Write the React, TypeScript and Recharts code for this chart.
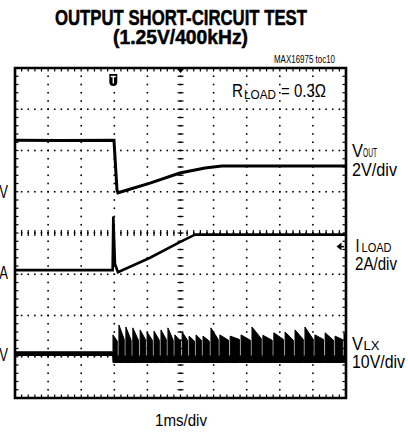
import React from "react";
import { ComposedChart, Line, Area, Scatter, XAxis, YAxis, ReferenceArea } from "recharts";

// time in ms from the trigger, 1ms/div, the screen shows -3 .. 7 ms
const voutTime = [-3, -1.6, -0.01, 0.08, 0.11, 1.08, 1.98, 2.74, 3.25, 7];
const voutVolts = [2.5, 2.48, 2.5, 0.1, -0.05, 0.42, 0.91, 1.15, 1.25, 1.25];

const iloadTime = [-3, -0.05, -0.03, 0.02, 0.11, 1.08, 1.98, 2.45, 7];
const iloadAmps = [0.2, 0.2, 2.8, 0.5, 0.1, 0.8, 1.56, 1.93, 1.92];

// LX node: trace band before the short, band floor after it, then the switching bursts
const vlxPreBand = [0.3, 1.2];
const vlxFloorBand = [-1.4, 0.2];
const vlxPulseStart = [-0.04, 0.14, 0.35, 0.56, 0.78, 0.99, 1.2, 1.41, 1.62, 1.83, 2.05, 2.26, 2.47, 2.68, 2.92, 3.19, 3.5, 3.83, 4.16, 4.49, 4.82, 5.16, 5.46, 5.76, 6.06, 6.37, 6.67, 6.94];
const vlxPulseEnd = [0.09, 0.3, 0.51, 0.73, 0.94, 1.15, 1.36, 1.57, 1.78, 2.0, 2.21, 2.42, 2.63, 2.87, 3.14, 3.45, 3.78, 4.11, 4.44, 4.77, 5.11, 5.41, 5.71, 6.01, 6.32, 6.62, 6.89, 7.0];
const vlxPulsePeak = [5.3, 7.7, 7.2, 7.0, 6.5, 6.0, 6.2, 6.5, 7.0, 5.3, 6.0, 5.0, 5.3, 5.0, 7.0, 5.3, 5.0, 5.3, 7.2, 5.2, 5.8, 6.0, 6.5, 7.2, 5.3, 5.8, 5.0, 5.8];
const vlxPulseTail = [3.8, 4.2, 4.0, 4.0, 4.2, 4.0, 4.0, 4.2, 4.0, 3.8, 4.0, 3.8, 4.0, 3.8, 4.2, 4.0, 4.2, 4.0, 4.4, 4.0, 4.2, 4.0, 4.2, 4.2, 4.2, 4.0, 4.2, 4.0];

// scope channel settings: units per div and zero position (div from bottom)
const VOUT_SCALE = 2, VOUT_ZERO = 5;
const ILOAD_SCALE = 2, ILOAD_ZERO = 3;
const VLX_SCALE = 10, VLX_ZERO = 1;

const gridX = [-2, -1, 0, 1, 2, 3, 4, 5, 6];
const gridY = [1, 2, 3, 4, 5, 6, 7];

const voutData = voutTime.map((t, i) => ({ t, y: voutVolts[i] / VOUT_SCALE + VOUT_ZERO }));
const iloadData = iloadTime.map((t, i) => ({ t, y: iloadAmps[i] / ILOAD_SCALE + ILOAD_ZERO }));

const lx = (v: number) => v / VLX_SCALE + VLX_ZERO;
const vlxData: { t: number; r: number[] }[] = [
  { t: -3, r: [lx(vlxPreBand[0]), lx(vlxPreBand[1])] },
  { t: -0.05, r: [lx(vlxPreBand[0]), lx(vlxPreBand[1])] },
];
vlxPulseStart.forEach((s, i) => {
  const lo = lx(vlxFloorBand[0]);
  vlxData.push({ t: s, r: [lo, lx(vlxFloorBand[1])] });
  vlxData.push({ t: s, r: [lo, lx(vlxPulsePeak[i])] });
  vlxData.push({ t: vlxPulseEnd[i], r: [lo, lx(vlxPulseTail[i])] });
  vlxData.push({ t: vlxPulseEnd[i], r: [lo, lx(vlxFloorBand[1])] });
});

// graticule: dots along every major line, crosses on the centre lines, ticks on the frame
const ticks: { t: number; y: number; kind: string }[] = [];
for (let k = 1; k < 50; k++) {
  const t = -3 + k * 0.2;
  ticks.push({ t, y: 4, kind: "v" }, { t, y: 8, kind: "top" }, { t, y: 0, kind: "bottom" });
  gridY.forEach((y) => ticks.push({ t, y, kind: "dot" }));
}
for (let k = 1; k < 40; k++) {
  const y = k * 0.2;
  ticks.push({ t: 2, y, kind: "h" }, { t: -3, y, kind: "left" }, { t: 7, y, kind: "right" });
  gridX.forEach((t) => ticks.push({ t, y, kind: "dot" }));
}

const markers = [
  { t: 0, y: 7.71, kind: "trig" },
  { t: 2, y: 8, kind: "pos" },
  { t: 7, y: 3.67, kind: "level" },
];

const TickShape = (props: any) => {
  const { cx, cy, payload } = props;
  const s = { stroke: "#000", strokeWidth: 1.2 };
  switch (payload.kind) {
    case "dot":
      return <rect x={cx - 0.8} y={cy - 0.8} width={1.6} height={1.6} fill="#000" />;
    case "v":
      return <line x1={cx} x2={cx} y1={cy - 3} y2={cy + 3} {...s} />;
    case "h":
      return <line x1={cx - 3} x2={cx + 3} y1={cy} y2={cy} {...s} />;
    case "top":
      return <line x1={cx} x2={cx} y1={cy} y2={cy + 3.5} {...s} />;
    case "bottom":
      return <line x1={cx} x2={cx} y1={cy - 3.5} y2={cy} {...s} />;
    case "left":
      return <line x1={cx} x2={cx + 3.5} y1={cy} y2={cy} {...s} />;
    default:
      return <line x1={cx - 3.5} x2={cx} y1={cy} y2={cy} {...s} />;
  }
};

const MarkerShape = (props: any) => {
  const { cx, cy, payload } = props;
  if (payload.kind === "trig") {
    const x = cx - 1;
    return (
      <g>
        <path d={`M${x - 4},${cy - 6} h8 v8 q0,4 -4,4 q-4,0 -4,-4 z`} fill="#000" />
        <path d={`M${x - 2.5},${cy - 3.5} h5 M${x},${cy - 3.5} v7`} stroke="#fff" strokeWidth={1.4} />
      </g>
    );
  }
  if (payload.kind === "pos") {
    return <polygon points={`${cx - 3.5},${cy + 1} ${cx + 3.5},${cy + 1} ${cx},${cy + 5}`} fill="#000" />;
  }
  return (
    <g>
      <polygon points={`${cx - 9.5},${cy} ${cx - 4.5},${cy - 4} ${cx - 4.5},${cy + 4}`} fill="#000" />
      <line x1={cx - 5} x2={cx - 2} y1={cy} y2={cy} stroke="#000" strokeWidth={1.5} />
    </g>
  );
};

const font = "'Liberation Sans Narrow', 'Liberation Sans', Arial, sans-serif";
const fit = "spacingAndGlyphs";

export default function App() {
  return (
    <div style={{ position: "absolute", left: 0, top: 0, width: 408, height: 432, background: "#fff" }}>
      <ComposedChart width={408} height={432} margin={{ top: 68, right: 62, bottom: 34, left: 15 }}>
        <XAxis type="number" dataKey="t" domain={[-3, 7]} allowDataOverflow hide />
        <YAxis type="number" dataKey="y" domain={[0, 8]} allowDataOverflow hide />
        <Scatter data={ticks} shape={TickShape} isAnimationActive={false} />
        <Area
          data={vlxData}
          dataKey="r"
          type="linear"
          stroke="#000"
          strokeWidth={1}
          fill="#000"
          fillOpacity={1}
          dot={false}
          activeDot={false}
          isAnimationActive={false}
        />
        <Line data={voutData} dataKey="y" type="linear" stroke="#000" strokeWidth={3} dot={false} activeDot={false} isAnimationActive={false} />
        <Line data={iloadData} dataKey="y" type="linear" stroke="#000" strokeWidth={2.6} dot={false} activeDot={false} isAnimationActive={false} />
        <Scatter data={markers} shape={MarkerShape} isAnimationActive={false} />
        <ReferenceArea x1={-3} x2={7} y1={0} y2={8} fill="none" stroke="#000" strokeWidth={2.6} />
      </ComposedChart>
      <svg width={408} height={432} style={{ position: "absolute", left: 0, top: 0, pointerEvents: "none" }} fontFamily={font}>
        <g fontWeight="bold" stroke="#000" strokeWidth={0.5}>
          <text x={181} y={25} textAnchor="middle" fontSize={21.5} textLength={252} lengthAdjust={fit}>
            OUTPUT SHORT-CIRCUIT TEST
          </text>
          <text x={180.5} y={43.5} textAnchor="middle" fontSize={19.5} textLength={135} lengthAdjust={fit}>
            (1.25V/400kHz)
          </text>
        </g>
        <text x={274} y={63} fontSize={11} textLength={61} lengthAdjust={fit}>
          MAX16975 toc10
        </text>

        <text x={232} y={97} fontSize={19} textLength={11} lengthAdjust={fit}>R</text>
        <text x={244} y={98.5} fontSize={13} textLength={32} lengthAdjust={fit}>LOAD</text>
        <text x={281} y={97} fontSize={19} textLength={45} lengthAdjust={fit}>= 0.3Ω</text>

        <text x={352} y={157} fontSize={19} textLength={11} lengthAdjust={fit}>V</text>
        <text x={363} y={157} fontSize={13} textLength={14} lengthAdjust={fit}>OUT</text>
        <text x={352} y={176} fontSize={19} textLength={45} lengthAdjust={fit}>2V/div</text>

        <text x={355.5} y={252} fontSize={19} textLength={4} lengthAdjust={fit}>I</text>
        <text x={361.5} y={252} fontSize={13} textLength={30} lengthAdjust={fit}>LOAD</text>
        <text x={355} y={270} fontSize={19} textLength={42} lengthAdjust={fit}>2A/div</text>

        <text x={352} y={350} fontSize={19} textLength={11} lengthAdjust={fit}>V</text>
        <text x={363.5} y={350} fontSize={13} textLength={16} lengthAdjust={fit}>LX</text>
        <text x={352} y={368} fontSize={19} textLength={53} lengthAdjust={fit}>10V/div</text>

        <text x={8} y={198} textAnchor="end" fontSize={19} textLength={16} lengthAdjust={fit}>0V</text>
        <text x={8} y={279} textAnchor="end" fontSize={19} textLength={16} lengthAdjust={fit}>0A</text>
        <text x={8} y={361} textAnchor="end" fontSize={19} textLength={16} lengthAdjust={fit}>0V</text>
        <text x={155} y={426} fontSize={16} textLength={52} lengthAdjust={fit}>
          1ms/div
        </text>
      </svg>
    </div>
  );
}
